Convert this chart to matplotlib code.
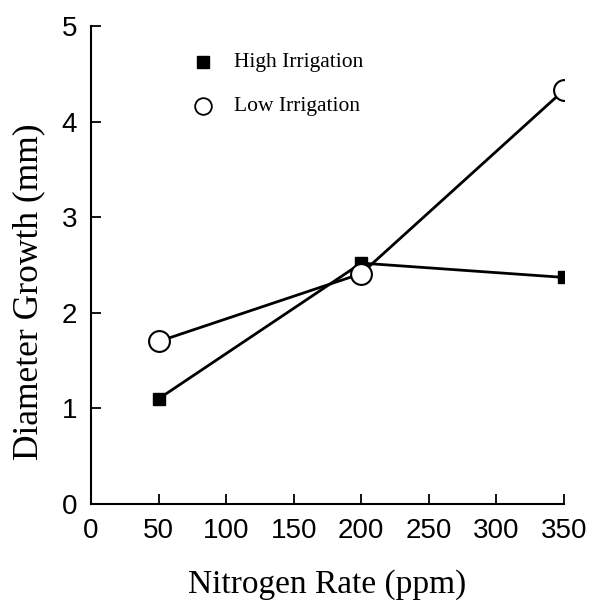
import matplotlib.pyplot as plt

nitrogen = [50, 200, 350]
high_irrigation = [1.1, 2.52, 2.37]
low_irrigation = [1.7, 2.41, 4.33]

x_ticks = [0, 50, 100, 150, 200, 250, 300, 350]
y_ticks = [0, 1, 2, 3, 4, 5]

serif = ['Liberation Serif', 'DejaVu Serif']
sans = ['Liberation Sans', 'DejaVu Sans']

fig = plt.figure(figsize=(5.92, 6.02), dpi=100)
ax = fig.add_axes([0.1537, 0.1628, 0.7990, 0.7940])

ax.plot(nitrogen, high_irrigation, color='black', linewidth=2.0,
        marker='s', markersize=8.5, markerfacecolor='black', zorder=3)
ax.plot(nitrogen, low_irrigation, color='black', linewidth=2.0,
        marker='o', markersize=15, markerfacecolor='white',
        markeredgewidth=1.5, zorder=4)

ax.set_xlim(0, 350)
ax.set_ylim(0, 5)
ax.set_xticks(x_ticks)
ax.set_yticks(y_ticks)
ax.spines['top'].set_visible(False)
ax.spines['right'].set_visible(False)
ax.spines['left'].set_linewidth(1.5)
ax.spines['bottom'].set_linewidth(1.5)
ax.tick_params(direction='in', length=7, width=1.3, pad=10)
for lbl in ax.get_xticklabels() + ax.get_yticklabels():
    lbl.set_family(sans)
    lbl.set_fontsize(20)

ax.set_xlabel('Nitrogen Rate (ppm)', family=serif, fontsize=24, labelpad=18)
# y label sits a bit below the axis centre in the original
fig.text(29 / 592, 1 - 292 / 602, 'Diameter Growth (mm)', family=serif,
         fontsize=25.5, rotation=90, ha='center', va='center')

# legend drawn as markers + text
ax.plot([83], [4.62], marker='s', markersize=8.5, color='black',
        linestyle='none', clip_on=False)
ax.plot([83], [4.16], marker='o', markersize=12, markerfacecolor='white',
        markeredgecolor='black', markeredgewidth=1.3, linestyle='none',
        clip_on=False)
ax.text(106, 4.62, 'High Irrigation', family=serif, fontsize=15.5, va='center')
ax.text(106, 4.16, 'Low Irrigation', family=serif, fontsize=15.5, va='center')

fig.savefig('out.png', dpi=100)
